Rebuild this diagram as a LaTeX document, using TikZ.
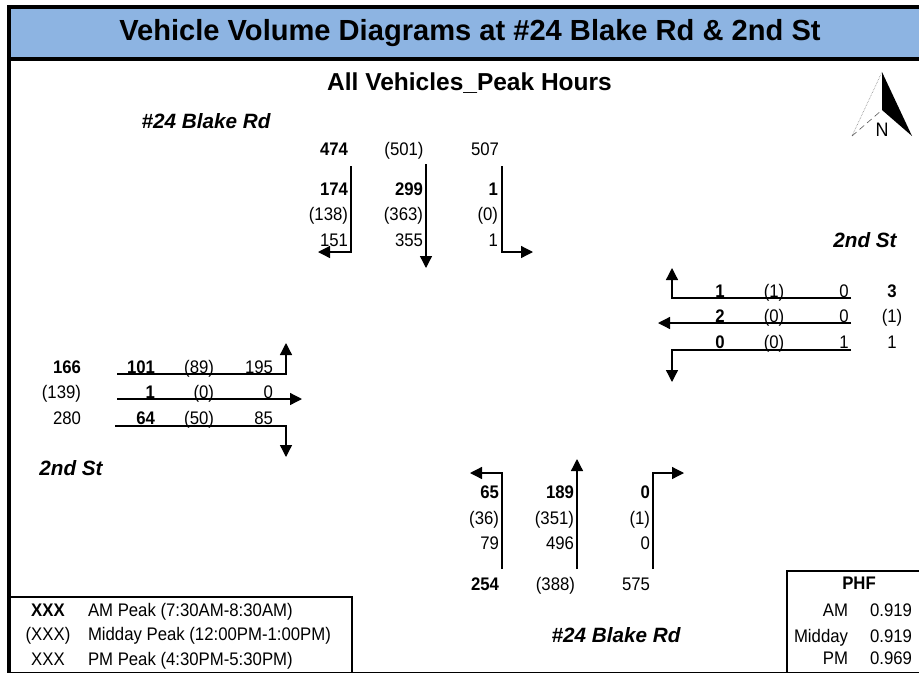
\documentclass[tikz,border=0pt]{standalone}
\usepackage{fontspec}
\setmainfont{Liberation Sans}
\newfontfamily\narrowf[FakeStretch=0.92]{Liberation Sans}
\usetikzlibrary{arrows.meta}
\tikzset{
  x=1pt,y=-1pt,
  lbl/.style={inner sep=0pt,outer sep=0pt,text height=13pt,text depth=0pt,font=\narrowf\fontsize{18.2}{20}\selectfont},
  lblb/.style={lbl,font=\narrowf\fontsize{18.2}{20}\selectfont\bfseries},
  road/.style={inner sep=0pt,outer sep=0pt,font=\fontsize{20.7}{23}\selectfont\bfseries\itshape},
  flow/.style={line width=1.3pt,-{Triangle[length=12pt,width=12pt]}},
  rule/.style={line width=1.3pt},
  frame/.style={line width=4pt,draw=black},
  box/.style={line width=2pt,draw=black},
}
\begin{document}
\begin{tikzpicture}
\useasboundingbox (0,0) rectangle (919,673);
\fill[white] (0,0) rectangle (919,673);
% header
\fill[fill={rgb,255:red,141;green,180;blue,226}] (9,7) rectangle (919,59);
\draw[frame] (919,7) -- (9,7) -- (9,673);
\draw[frame] (9,59) -- (919,59);
\node[inner sep=0pt,font=\fontsize{29.1}{32}\selectfont\bfseries] (title) at (470,33) {Vehicle Volume Diagrams at \#24 Blake Rd \& 2nd St};
\node[inner sep=0pt,font=\fontsize{24.5}{27}\selectfont\bfseries] (sub) at (469.5,83) {All Vehicles\_Peak Hours};
% north arrow
\coordinate (na) at (882,72); \coordinate (nr) at (912,136); \coordinate (nc) at (882,110); \coordinate (nl) at (852,136);
\fill[black] (na) -- (nr) -- (nc) -- cycle;
\draw[gray,line width=.6pt,densely dotted] (na) -- (nl);
\draw[gray!70!black,line width=.6pt,dash pattern=on 6pt off 4pt] (nl) -- (nc);
\node[inner sep=0pt,font=\narrowf\fontsize{19.5}{21}\selectfont] (north) at (882,129.5) {N};
% road names
\node[road] (rn) at (206,121) {\#24 Blake Rd};
\node[road] (re) at (865,240) {2nd St};
\node[road] (rw) at (71,468) {2nd St};
\node[road] (rs) at (616,635) {\#24 Blake Rd};
% north leg
\node[lblb,anchor=east] (n1) at (348,149) {474};
\node[lbl] (n2) at (404,149) {(501)};
\node[lbl] (n3) at (485,149) {507};
\node[lblb,anchor=east] (n4) at (348,189) {174};
\node[lbl,anchor=east] (n5) at (348,214) {(138)};
\node[lbl,anchor=east] (n6) at (348,240) {151};
\node[lblb,anchor=east] (n7) at (423,189) {299};
\node[lbl,anchor=east] (n8) at (423,214) {(363)};
\node[lbl,anchor=east] (n9) at (423,240) {355};
\node[lblb,anchor=east] (n10) at (498,189) {1};
\node[lbl,anchor=east] (n11) at (498,214) {(0)};
\node[lbl,anchor=east] (n12) at (498,240) {1};
\coordinate (a1) at (351,166); \coordinate (a2) at (318,252);
\coordinate (b1) at (426,164); \coordinate (b2) at (426,268);
\coordinate (c1) at (502,166); \coordinate (c2) at (533,252);
\draw[flow] (a1) |- (a2);
\draw[flow] (b1) -- (b2);
\draw[flow] (c1) |- (c2);
% east leg
\node[lblb] (e1) at (720,291) {1};
\node[lbl] (e2) at (774,291) {(1)};
\node[lbl] (e3) at (844,291) {0};
\node[lblb] (e4) at (892,291) {3};
\node[lblb] (e5) at (720,316) {2};
\node[lbl] (e6) at (774,316) {(0)};
\node[lbl] (e7) at (844,316) {0};
\node[lbl] (e8) at (892,316) {(1)};
\node[lblb] (e9) at (720,342) {0};
\node[lbl] (e10) at (774,342) {(0)};
\node[lbl] (e11) at (844,342) {1};
\node[lbl] (e12) at (892,342) {1};
\coordinate (d1) at (851,298); \coordinate (d2) at (672,268);
\coordinate (f1) at (851,323); \coordinate (f2) at (658,323);
\coordinate (g1) at (851,350); \coordinate (g2) at (672,382);
\draw[flow] (d1) -| (d2);
\draw[flow] (f1) -- (f2);
\draw[flow] (g1) -| (g2);
% west leg
\node[lblb,anchor=east] (w1) at (81,367) {166};
\node[lbl,anchor=east] (w2) at (81,392) {(139)};
\node[lbl,anchor=east] (w3) at (81,418) {280};
\node[lblb,anchor=east] (w4) at (155,367) {101};
\node[lbl,anchor=east] (w5) at (214,367) {(89)};
\node[lbl,anchor=east] (w6) at (273,367) {195};
\node[lblb,anchor=east] (w7) at (155,392) {1};
\node[lbl,anchor=east] (w8) at (214,392) {(0)};
\node[lbl,anchor=east] (w9) at (273,392) {0};
\node[lblb,anchor=east] (w10) at (155,418) {64};
\node[lbl,anchor=east] (w11) at (214,418) {(50)};
\node[lbl,anchor=east] (w12) at (273,418) {85};
\coordinate (h1) at (117,374); \coordinate (h2) at (286,343);
\coordinate (i1) at (117,399); \coordinate (i2) at (302,399);
\coordinate (j1) at (115,426); \coordinate (j2) at (286,457);
\draw[flow] (h1) -| (h2);
\draw[flow] (i1) -- (i2);
\draw[flow] (j1) -| (j2);
% south leg
\node[lblb,anchor=east] (s1) at (499,492) {65};
\node[lbl,anchor=east] (s2) at (499,518) {(36)};
\node[lbl,anchor=east] (s3) at (499,543) {79};
\node[lblb,anchor=east] (s4) at (574,492) {189};
\node[lbl,anchor=east] (s5) at (574,518) {(351)};
\node[lbl,anchor=east] (s6) at (574,543) {496};
\node[lblb,anchor=east] (s7) at (650,492) {0};
\node[lbl,anchor=east] (s8) at (650,518) {(1)};
\node[lbl,anchor=east] (s9) at (650,543) {0};
\node[lblb,anchor=east] (s10) at (499,584) {254};
\node[lbl,anchor=east] (s11) at (575,584) {(388)};
\node[lbl,anchor=east] (s12) at (650,584) {575};
\coordinate (k1) at (502,569); \coordinate (k2) at (470,473);
\coordinate (l1) at (577,569); \coordinate (l2) at (577,459);
\coordinate (m1) at (653,569); \coordinate (m2) at (684,473);
\draw[flow] (k1) |- (k2);
\draw[flow] (l1) -- (l2);
\draw[flow] (m1) |- (m2);
% legend
\draw[box] (9,597) -- (352,597) -- (352,672);
\draw[line width=1pt] (9,672) -- (919,672);
\node[lblb] (x1) at (48,610) {XXX};
\node[lbl] (x2) at (48,634) {(XXX)};
\node[lbl] (x3) at (48,659) {XXX};
\node[lbl,anchor=west] (t1) at (88,610) {AM Peak (7:30AM-8:30AM)};
\node[lbl,anchor=west] (t2) at (88,634) {Midday Peak (12:00PM-1:00PM)};
\node[lbl,anchor=west] (t3) at (88,659) {PM Peak (4:30PM-5:30PM)};
% PHF
\draw[box] (919,571) -- (787,571) -- (787,672);
\node[lblb] (p0) at (859,583) {PHF};
\node[lbl,anchor=east] (p1) at (848,610) {AM};
\node[lbl,anchor=east] (p2) at (848,636) {Midday};
\node[lbl,anchor=east] (p3) at (848,658) {PM};
\node[lbl,anchor=east] (v1) at (912,610) {0.919};
\node[lbl,anchor=east] (v2) at (912,636) {0.919};
\node[lbl,anchor=east] (v3) at (912,658) {0.969};
\end{tikzpicture}
\end{document}
